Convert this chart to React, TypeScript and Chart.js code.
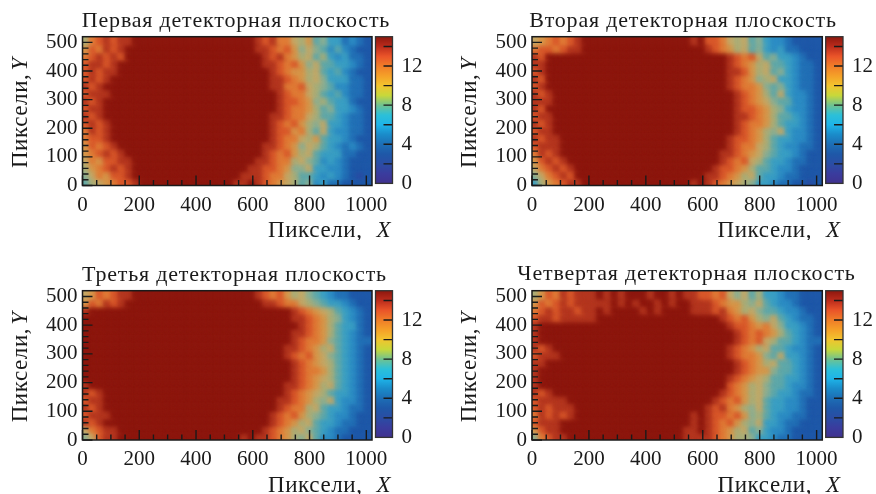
import React, { useEffect, useRef } from "react";
import { Chart, registerables } from "chart.js";

Chart.register(...registerables);

// Each row string runs from X = 0 to X = 1020, rows from Y = 520 down to Y = 0.
// Each character is the hit count level of one cell, in base 16.
const plane1Rows = [
  "9cdedeefffffffffffffffff" + "edecca9b78664543",
  "bdcedeffffffffffffffffff" + "eedcdb8a87575433",
  "cdededffffffffffffffffff" + "fedecb9a79656443",
  "deedefffffffffffffffffff" + "feedcdb8a7766543",
  "dedeefffffffffffffffffff" + "ffedcbb9a7675433",
  "dedeffffffffffffffffffff" + "ffeedcb9a8666443",
  "edefffffffffffffffffffff" + "ffeeccda98755443",
  "deeeffffffffffffffffffff" + "fffedcca97675443",
  "edefffffffffffffffffffff" + "fffeddcb89766433",
  "deefffffffffffffffffffff" + "fffedccb97866543",
  "edefffffffffffffffffffff" + "ffeedcca97765443",
  "dedeffffffffffffffffffff" + "ffedcdb98a665443",
  "cedeffffffffffffffffffff" + "ffeddbc97a655443",
  "cddeffffffffffffffffffff" + "ffedcca9b7665433",
  "bdcdefffffffffffffffffff" + "feedcb8a97654543",
  "bcdedeffffffffffffffffff" + "fedcdb9a76664433",
  "acbddeefffffffffffffffff" + "eedcc9a875654333",
  "9bcdedeffffffffffffffffe" + "eddcb88a66554333",
  "8acbddefffffffffffffffee" + "edcca97765654323",
  "79abcddefffffffffffffeef" + "edcba97856443333",
];
const plane2Rows = [
  "abcdcdefffffffffffffffef" + "ddca9a7865543333",
  "cddcdeefffffffffffffffff" + "edcb9a7865644333",
  "edffffffffffffffffffffff" + "fffedcda78665433",
  "eeffffffffffffffffffffff" + "fffedcb9a7765443",
  "deffffffffffffffffffffff" + "fffeedb9a7865443",
  "edffffffffffffffffffffff" + "fffedcb89a665443",
  "deffffffffffffffffffffff" + "fffedccb87865443",
  "edefffffffffffffffffffff" + "ffffedcb97a65543",
  "eeefffffffffffffffffffff" + "ffffedcba8775543",
  "edffffffffffffffffffffff" + "ffffeddcb9865543",
  "deefffffffffffffffffffff" + "ffffeedcb9776543",
  "edefffffffffffffffffffff" + "ffffedccb9766543",
  "deefffffffffffffffffffff" + "ffffedcb98a65543",
  "edeeffffffffffffffffffff" + "fffeddcb97665543",
  "deeeffffffffffffffffffff" + "fffedcca97655443",
  "cedeffffffffffffffffffff" + "ffeedcba87665433",
  "bdedefffffffffffffffffff" + "ffedcda976654433",
  "acdedeffffffffffffffffff" + "feddcb9776554333",
  "8acdedffffffffffffffffff" + "eedcb9a766544333",
  "69bcdeefffffffffffffffef" + "edcba98665443323",
];
const plane3Rows = [
  "abdcdeefffffffffffffffff" + "edcdb9a876544333",
  "bdcedeffffffffffffffffff" + "feedcca987665433",
  "efffffffffffffffffffffff" + "fffffedcba976543",
  "ffffffffffffffffffffffff" + "fffffeedcb986543",
  "ffffffffffffffffffffffff" + "ffffffedcb976643",
  "ffffffffffffffffffffffff" + "fffffeedcb976543",
  "ffffffffffffffffffffffff" + "fffffedccb876544",
  "ffffffffffffffffffffffff" + "ffffeedcb9a76543",
  "ffffffffffffffffffffffff" + "ffffedcdba876543",
  "ffffffffffffffffffffffff" + "fffffedcba976543",
  "ffffffffffffffffffffffff" + "fffffedccb976543",
  "ffffffffffffffffffffffff" + "fffffedcba976543",
  "efffffffffffffffffffffff" + "ffffeedcb9a76543",
  "edefffffffffffffffffffff" + "ffffedcba9766543",
  "deefffffffffffffffffffff" + "fffeedcb98a65543",
  "edefffffffffffffffffffff" + "fffedcc9a7665443",
  "deeeffffffffffffffffffff" + "ffedcdb987655433",
  "edefffffffffffffffffffff" + "ffedcb9a76654433",
  "acdeefffffffffffffffffff" + "fedcb9a876544333",
  "8adeefffffffffffffffffef" + "eedcb98a75543333",
];
const plane4Rows = [
  "9bdcedeeefefefffeffefeed" + "dcda8a7966544333",
  "bdcdedeeeeefefeffefeffee" + "edcbb98a76554333",
  "cdedeedeefeffffefeffffee" + "edecb9a877655433",
  "deedeeeeefffffffffffffff" + "ffedcdb98a765443",
  "efffffffffffffffffffffff" + "fffeddcbca866543",
  "efffffffffffffffffffffff" + "ffffedcdcb976543",
  "efffffffffffffffffffffff" + "ffffedcda9776544",
  "edefffffffffffffffffffff" + "fffedcb9a7765543",
  "deeeffffffffffffffffffff" + "fffedccb87a66543",
  "eeffffffffffffffffffffff" + "ffffedcb9a776543",
  "efffffffffffffffffffffff" + "ffffedcbb8776543",
  "efffffffffffffffffffffff" + "fffedcba97766543",
  "efffffffffffffffffffffff" + "fffdcb9a87765543",
  "edefffffffffffffffffffff" + "ffedcb9a87665443",
  "deeeefffffffffffffffffff" + "fedcdb9a76655433",
  "dedeeeffffffffffffffffff" + "edecb98a76655433",
  "cededeffffffffffffffffef" + "eddcdb8976554433",
  "deeeffffffffffffffffffef" + "edcdb98a66544333",
  "bdeefffffffffffffffffeef" + "edcb9a7865543333",
  "8cdeeffffffffffffffffeee" + "edcb998665443333",
];

const planeTitles = [
  "Первая детекторная плоскость",
  "Вторая детекторная плоскость",
  "Третья детекторная плоскость",
  "Четвертая детекторная плоскость",
];
const xTickMajor = [0, 200, 400, 600, 800, 1000];
const xTickMinor = [50, 100, 150, 250, 300, 350, 450, 500, 550, 650, 700, 750, 850, 900, 950];
const yTickMajor = [0, 100, 200, 300, 400, 500];
const yTickMinor = [20, 40, 60, 80, 120, 140, 160, 180, 220, 240, 260, 280, 320, 340, 360, 380, 420, 440, 460, 480];
const barLabels = [0, 4, 8, 12];
const barTicks = [2, 4, 6, 8, 10, 12, 14];
const colorStops = [0, 1, 2, 3, 4, 5, 6, 7, 8, 9, 10, 11, 12, 13, 14, 15];
const colorValues = [
  "#40328f", "#3a3c9e", "#2a4da4", "#1e58a8", "#1d6eb5", "#1a8cca", "#1eb4e8", "#2cc0d8",
  "#70c290", "#c8d83a", "#f2c42e", "#f5a028", "#f07d28", "#ea5429", "#bc2c1c", "#8d170e",
];
// The cells average a speckled picture, so their middle levels look greyer than the colour bar.
const cellShades = [
  "#40328f", "#3a3c9e", "#2a4da4", "#1e58a8", "#2270b6", "#2c8cc4", "#3a9fc4", "#5ea8aa",
  "#8caf92", "#a9ae78", "#c4a866", "#d6974a", "#e07c36", "#d9582a", "#b4361f", "#8d170e",
];

const SERIF = '"Liberation Serif", serif';
const INK = "#1a1a1a";
const X_MAX = 1020;
const Y_MAX = 520;

const rowsOf = [plane1Rows, plane2Rows, plane3Rows, plane4Rows];
const layout = [
  { left: 82.5, right: 372, top: 36.7, bottom: 185.5, titleX: 236, titleY: 10, barL: 375.5, barR: 392.5 },
  { left: 532, right: 822.3, top: 36.7, bottom: 185.5, titleX: 683, titleY: 10, barL: 825.7, barR: 843 },
  { left: 82.5, right: 372, top: 290.7, bottom: 440, titleX: 234.5, titleY: 264, barL: 375.5, barR: 392.5 },
  { left: 532, right: 822.3, top: 290.7, bottom: 440, titleX: 686.5, titleY: 263, barL: 825.7, barR: 843 },
];

function cellsOf(rows: string[]) {
  const pts: { x: number; y: number; v: number }[] = [];
  const h = Y_MAX / rows.length;
  for (let r = rows.length - 1; r >= 0; r--) {
    const row = rows[r];
    const w = X_MAX / row.length;
    for (let c = 0; c < row.length; c++) {
      pts.push({ x: (c + 0.5) * w, y: Y_MAX - (r + 0.5) * h, v: parseInt(row[c], 16) });
    }
  }
  return pts;
}

function lineTicks(ctx: CanvasRenderingContext2D, segs: number[][], width: number) {
  ctx.save();
  ctx.strokeStyle = INK;
  ctx.lineWidth = width;
  ctx.beginPath();
  for (const [a, b, c, d] of segs) {
    ctx.moveTo(a, b);
    ctx.lineTo(c, d);
  }
  ctx.stroke();
  ctx.restore();
}

const CAPTION_FONT = 23;
const heatPlugin = (geo: any) => ({
  id: "heatFrame",
  afterLayout(chart: any) {
    const t = chart.titleBlock;
    const canvasLeft = chart.canvas.offsetLeft;
    const canvasTop = chart.canvas.offsetTop;
    const w = 340;
    t.left = geo.titleX - canvasLeft - w / 2;
    t.right = geo.titleX - canvasLeft + w / 2;
    t.top = geo.titleY - canvasTop;
    t.bottom = t.top + 22;
    if (!t.__spaced) {
      t.__spaced = true;
      const draw = t.draw;
      t.draw = function () {
        chart.ctx.letterSpacing = "0.8px";
        draw.call(t);
        chart.ctx.letterSpacing = "0px";
      };
    }
  },
  beforeDatasetDraw(chart: any, args: any) {
    if (args.index === 0) chart.ctx.filter = "blur(2.6px)";
  },
  afterDatasetDraw(chart: any) {
    chart.ctx.filter = "none";
  },
  afterDatasetsDraw(chart: any) {
    const { ctx, chartArea: a, scales } = chart;
    const xs = scales.x;
    const ys = scales.y;
    const seg: number[][] = [];
    xTickMajor.forEach((v) => seg.push([xs.getPixelForValue(v), a.bottom, xs.getPixelForValue(v), a.bottom - 10]));
    xTickMinor.forEach((v) => seg.push([xs.getPixelForValue(v), a.bottom, xs.getPixelForValue(v), a.bottom - 5.5]));
    yTickMajor.forEach((v) => seg.push([a.left, ys.getPixelForValue(v), a.left + 10, ys.getPixelForValue(v)]));
    yTickMinor.forEach((v) => seg.push([a.left, ys.getPixelForValue(v), a.left + 6, ys.getPixelForValue(v)]));
    lineTicks(ctx, seg, 1.4);
    ctx.save();
    ctx.strokeStyle = INK;
    ctx.lineWidth = 1.5;
    ctx.strokeRect(a.left, a.top, a.right - a.left, a.bottom - a.top);
    ctx.restore();

    // axis captions, with the italic letter as in the source figure
    ctx.save();
    ctx.fillStyle = INK;
    ctx.textBaseline = "alphabetic";
    ctx.letterSpacing = "0.6px";
    const word = "Пиксели,";
    ctx.font = `${CAPTION_FONT}px ${SERIF}`;
    const wordW = ctx.measureText(word).width;
    const startX = a.left + 185.5;
    const baseX = a.bottom + 51.5;
    ctx.textAlign = "left";
    ctx.fillText(word, startX, baseX);
    ctx.font = `italic ${CAPTION_FONT}px ${SERIF}`;
    ctx.fillText("X", startX + wordW + 14, baseX);

    ctx.translate(26, (a.top + a.bottom) / 2 + 57);
    ctx.rotate(-Math.PI / 2);
    ctx.font = `${CAPTION_FONT}px ${SERIF}`;
    ctx.fillText(word, 0, 0);
    ctx.font = `italic ${CAPTION_FONT}px ${SERIF}`;
    ctx.fillText("Y", wordW + 3, 0);
    ctx.restore();
  },
});

const barPlugin = {
  id: "barFrame",
  afterDatasetsDraw(chart: any) {
    const { ctx, chartArea: a, scales } = chart;
    const seg = barTicks.map((v) => [a.right, scales.y.getPixelForValue(v), a.right - 9, scales.y.getPixelForValue(v)]);
    lineTicks(ctx, seg, 1.4);
    ctx.save();
    ctx.strokeStyle = "#333";
    ctx.lineWidth = 1.3;
    ctx.strokeRect(a.left, a.top, a.right - a.left, a.bottom - a.top);
    ctx.restore();
  },
};

function colorFor(v: number) {
  return cellShades[Math.max(0, colorStops.indexOf(v))];
}

function Panel({ index }: { index: number }) {
  const heatRef = useRef<HTMLCanvasElement>(null);
  const barRef = useRef<HTMLCanvasElement>(null);
  const geo = layout[index];
  const canvasLeft = Math.round(geo.left - 82);
  const canvasTop = Math.floor(geo.top - 36);
  const heatW = 420;
  const heatH = 240;
  const barLeft = Math.floor(geo.barL - 2);
  const barTop = canvasTop;
  const barW = 70;
  const barH = 205;

  useEffect(() => {
    const cells = cellsOf(rowsOf[index]);
    const TITLE_H = 22;
    const paint = (ctx: any) => colorFor(ctx.raw?.v);
    const shared = {
      pointStyle: "rect",
      pointRadius: 7,
      pointBorderWidth: 0,
      pointBackgroundColor: paint,
      showLine: false,
    };
    const heat = new Chart(heatRef.current!, {
      type: "scatter",
      data: {
        datasets: [
          { label: planeTitles[index], data: cells, ...shared },
          { label: planeTitles[index] + " (base)", data: cells, ...shared },
        ],
      } as any,
      plugins: [heatPlugin(geo)],
      options: {
        animation: false,
        responsive: false,
        events: [],
        layout: {
          padding: {
            left: 0,
            top: geo.top - canvasTop - TITLE_H,
            right: heatW - (geo.right - canvasLeft),
            bottom: heatH - (geo.bottom - canvasTop) - 32,
          },
        },
        plugins: {
          legend: { display: false },
          tooltip: { enabled: false },
          title: {
            display: true,
            text: planeTitles[index],
            color: INK,
            padding: 0,
            fullSize: false,
            font: { family: SERIF, size: 22, weight: "normal", lineHeight: 1 },
          },
        },
        scales: {
          x: {
            type: "linear",
            min: 0,
            max: X_MAX,
            grid: { display: false, drawTicks: false },
            border: { display: false },
            afterBuildTicks: (s: any) => { s.ticks = xTickMajor.map((value) => ({ value })); },
            afterFit: (s: any) => { s.height = 32; },
            ticks: {
              callback: (v: any) => String(v),
              maxRotation: 0,
              autoSkip: false,
              padding: 7,
              color: INK,
              font: { family: SERIF, size: 21 },
            },
          },
          y: {
            type: "linear",
            min: 0,
            max: Y_MAX,
            grid: { display: false, drawTicks: false },
            border: { display: false },
            afterBuildTicks: (s: any) => { s.ticks = yTickMajor.map((value) => ({ value })); },
            afterFit: (s: any) => { s.width = geo.left - canvasLeft; },
            ticks: {
              callback: (v: any) => String(v),
              autoSkip: false,
              padding: 5,
              color: INK,
              font: { family: SERIF, size: 21 },
            },
          },
        },
      } as any,
    });

    const bar = new Chart(barRef.current!, {
      type: "bar",
      data: {
        labels: [""],
        datasets: [
          {
            label: "Шкала",
            data: [15],
            barPercentage: 1,
            categoryPercentage: 1,
            backgroundColor: (ctx: any) => {
              const { chart } = ctx;
              const a = chart.chartArea;
              if (!a) return colorValues[0];
              const g = chart.ctx.createLinearGradient(0, a.bottom, 0, a.top);
              colorStops.forEach((s, i) => g.addColorStop(s / 15, colorValues[i]));
              return g;
            },
          },
        ],
      },
      plugins: [barPlugin],
      options: {
        animation: false,
        responsive: false,
        events: [],
        layout: {
          padding: {
            left: geo.barL - barLeft,
            top: geo.top - barTop,
            right: 0,
            bottom: barH - (geo.bottom - barTop),
          },
        },
        plugins: { legend: { display: false }, tooltip: { enabled: false } },
        scales: {
          x: { display: false },
          y: {
            position: "right",
            min: 0,
            max: 15,
            grid: { display: false, drawTicks: false },
            border: { display: false },
            afterBuildTicks: (s: any) => { s.ticks = barLabels.map((value) => ({ value })); },
            afterFit: (s: any) => { s.width = barW - (geo.barR - barLeft); },
            ticks: {
              autoSkip: false,
              padding: 9,
              color: INK,
              font: { family: SERIF, size: 21 },
            },
          },
        },
      } as any,
    });

    return () => {
      heat.destroy();
      bar.destroy();
    };
  }, [index]);

  return (
    <>
      <canvas
        ref={heatRef}
        width={heatW}
        height={heatH}
        style={{ position: "absolute", left: canvasLeft, top: canvasTop, width: heatW, height: heatH }}
      />
      <canvas
        ref={barRef}
        width={barW}
        height={barH}
        style={{ position: "absolute", left: barLeft, top: barTop, width: barW, height: barH }}
      />
    </>
  );
}

export default function App() {
  useEffect(() => {
    document.body.style.margin = "0";
    document.body.style.background = "#fff";
  }, []);
  return (
    <div style={{ position: "relative", width: 876, height: 494, overflow: "hidden", background: "#fff" }}>
      {planeTitles.map((_, i) => (
        <Panel key={i} index={i} />
      ))}
    </div>
  );
}
